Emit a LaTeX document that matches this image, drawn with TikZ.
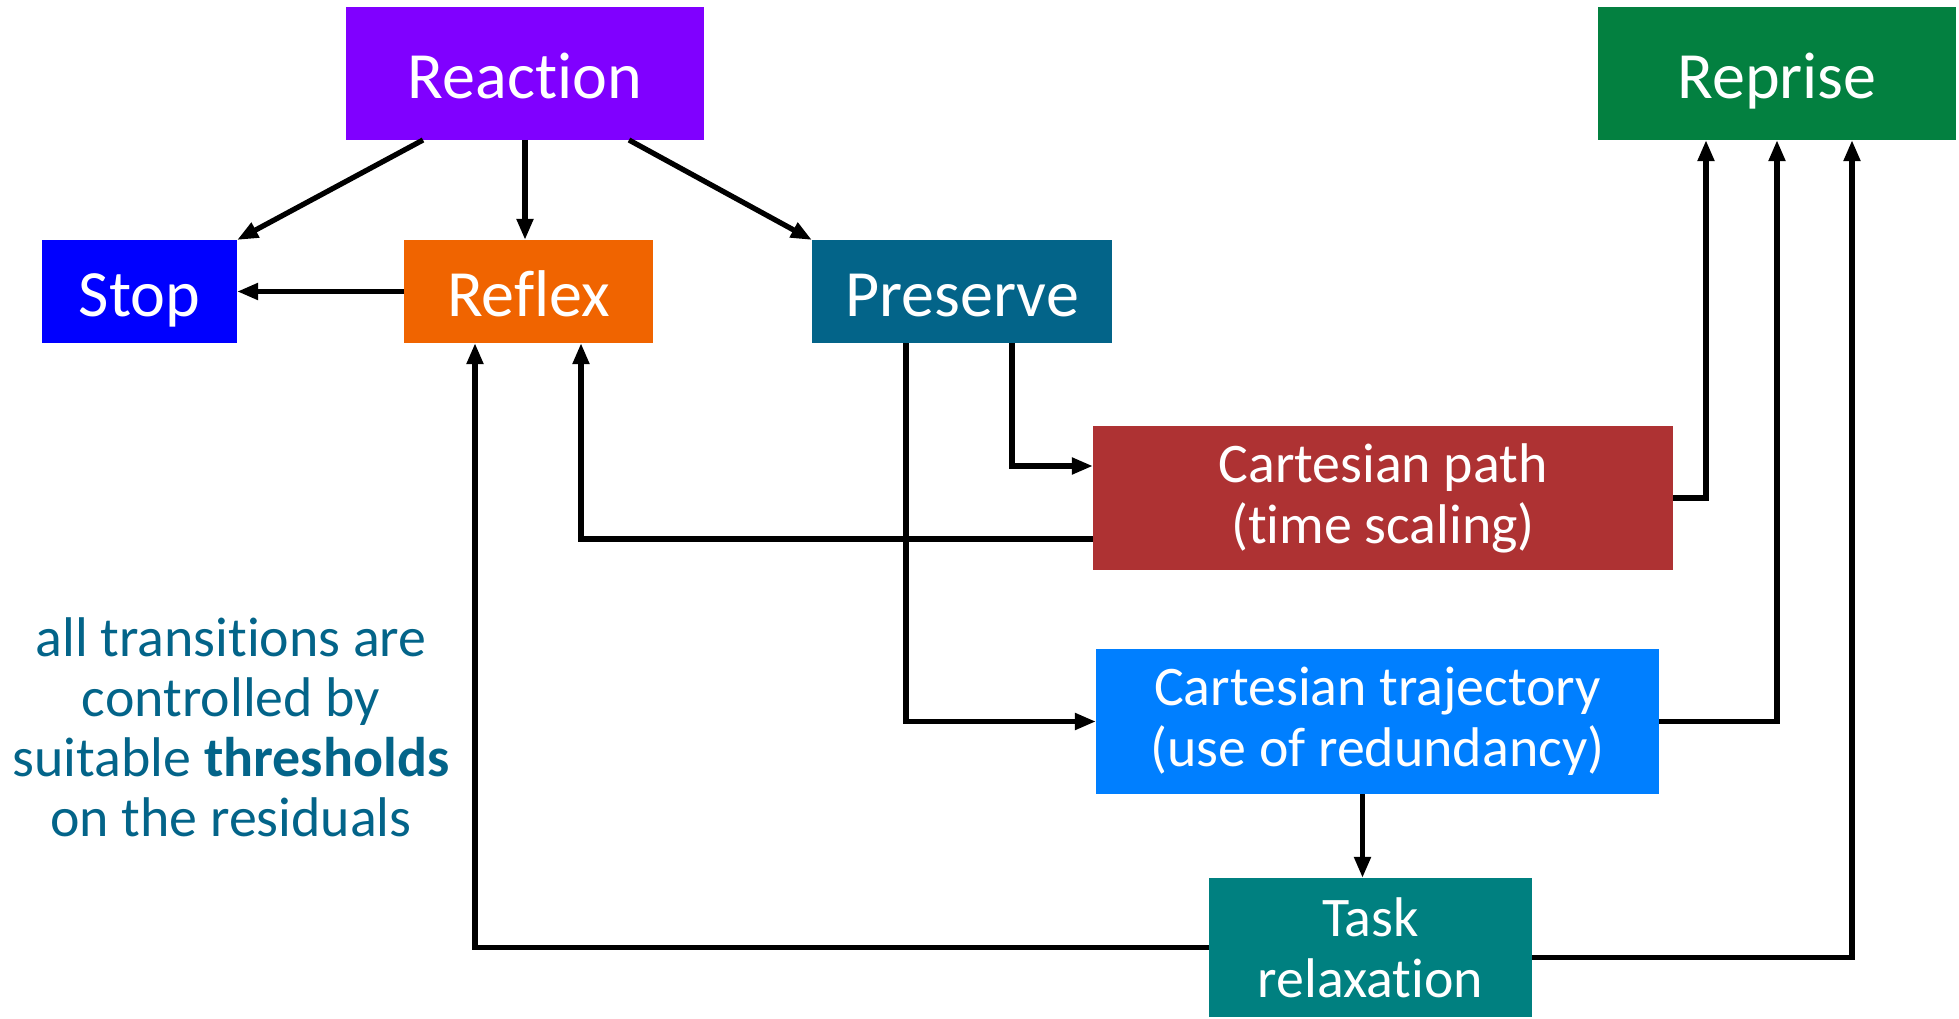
\documentclass[tikz,border=0pt]{standalone}
\usepackage{fontspec}
\setmainfont{Carlito}[Ligatures=NoCommon]
\usetikzlibrary{arrows.meta, positioning, calc}
\usepackage{xcolor}

\definecolor{reactcol}{RGB}{128,0,255}
\definecolor{stopcol}{RGB}{0,0,255}
\definecolor{reflexcol}{RGB}{240,100,0}
\definecolor{preservecol}{RGB}{3,100,137}
\definecolor{reprisecol}{RGB}{3,128,64}
\definecolor{pathcol}{RGB}{174,50,51}
\definecolor{trajcol}{RGB}{0,127,255}
\definecolor{taskcol}{RGB}{0,128,128}

\begin{document}
\begin{tikzpicture}[
  state/.style={rectangle, text=white, inner sep=0pt, outer sep=0pt,
    text centered, text height=0.5cm, text depth=0pt,
    minimum height=1.03cm, font=\fontsize{18.8}{22}\selectfont},
  bigstate/.style={state, minimum width=3.58cm, minimum height=1.33cm},
  mode/.style={rectangle, text=white, inner sep=0pt, outer sep=0pt,
    align=center, font=\fontsize{15.9}{17.4}\selectfont},
  note/.style={align=center, text=preservecol, font=\fontsize{15.9}{17.1}\selectfont},
  arrow/.style={-{Triangle[length=6pt, width=4.5pt]}, line width=1.5pt}
]
\useasboundingbox (0,0) rectangle (19.59,10.18);

% stati principali
\node (reflex) [state, fill=reflexcol, minimum width=2.49cm] at (5.285,7.265) {Reflex};
\node (stop) [state, fill=stopcol, minimum width=1.95cm, left=1.67cm of reflex] {Stop};
\node (preserve) [state, fill=preservecol, minimum width=3.0cm, right=1.59cm of reflex] {Preserve};
\node (reaction) [bigstate, fill=reactcol, above=1.0cm of reflex, xshift=-0.035cm] {Reaction};
\node (reprise) [bigstate, fill=reprisecol] at (17.77,9.445) {Reprise};

% modi di preservazione
\node (cpath) [mode, fill=pathcol, minimum width=5.8cm, minimum height=1.44cm] at (13.83,5.20)
  {Cartesian path\\(time scaling)};
\node (ctraj) [mode, fill=trajcol, minimum width=5.63cm, minimum height=1.45cm, below=0.79cm of cpath, xshift=-0.055cm]
  {Cartesian trajectory\\(use of redundancy)};
\node (task) [mode, fill=taskcol, minimum width=3.23cm, minimum height=1.39cm, below=0.84cm of ctraj, xshift=-0.07cm]
  {Task\\relaxation};

% nota
\node (thr) [note] at (2.31,2.91)
  {all transitions are\\controlled by\\suitable \textbf{thresholds}\\on the residuals};

% frecce da Reaction
\draw [arrow] ([xshift=0.77cm]reaction.south west) -- (stop.north east);
\draw [arrow] (reaction.south) -- (reaction.south |- reflex.north);
\draw [arrow] ([xshift=-0.75cm]reaction.south east) -- (preserve.north west);
\draw [arrow] (reflex.west) -- (reflex.west -| stop.east);

% frecce da Preserve
\draw [arrow] ([xshift=0.5cm]preserve.south) |- ([yshift=0.32cm]cpath.west);
\draw [arrow] ([xshift=-0.56cm]preserve.south) |- (ctraj.west);

% ritorni
\draw [arrow] ([yshift=-0.41cm]cpath.west) -| ([xshift=0.525cm]reflex.south);
\draw [arrow] (task.west) -| ([xshift=-0.535cm]reflex.south);
\draw [arrow] (cpath.east) -| ([xshift=-0.71cm]reprise.south);
\draw [arrow] (ctraj.east) -| (reprise.south);
\draw [arrow] ([yshift=-0.1cm]task.east) -| ([xshift=0.75cm]reprise.south);
\draw [arrow] ([xshift=-0.15cm]ctraj.south) -- ([xshift=-0.15cm]ctraj.south |- task.north);

\end{tikzpicture}
\end{document}
